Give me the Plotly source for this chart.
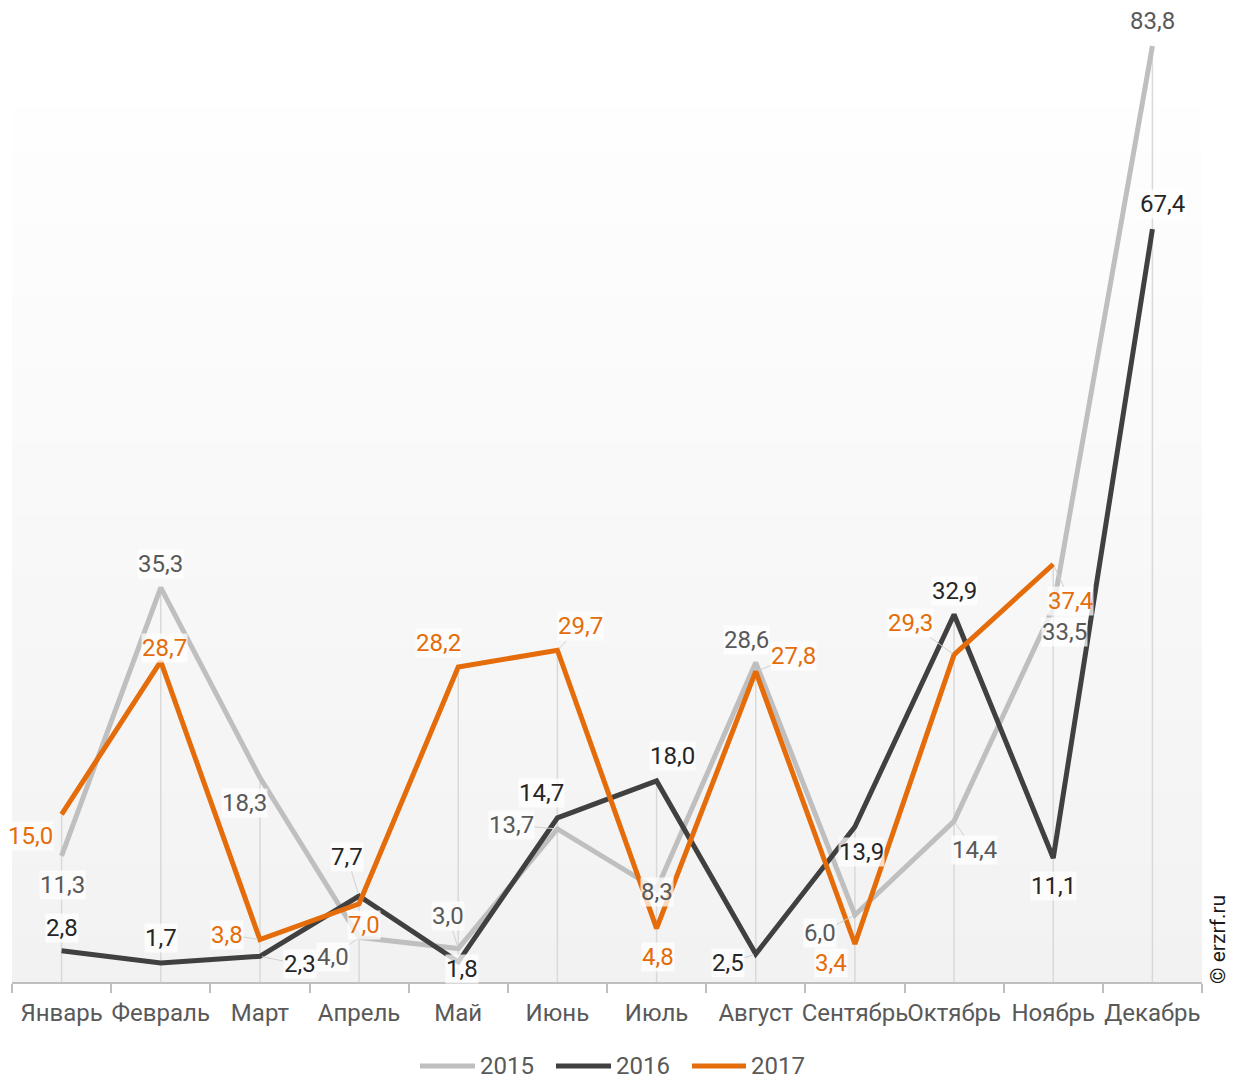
import plotly.graph_objects as go

# data
months = ["Январь", "Февраль", "Март", "Апрель", "Май", "Июнь",
          "Июль", "Август", "Сентябрь", "Октябрь", "Ноябрь", "Декабрь"]
y2015 = [11.3, 35.3, 18.3, 4.0, 3.0, 13.7, 8.3, 28.6, 6.0, 14.4, 33.5, 83.8]
y2016 = [2.8, 1.7, 2.3, 7.7, 1.8, 14.7, 18.0, 2.5, 13.9, 32.9, 11.1, 67.4]
y2017 = [15.0, 28.7, 3.8, 7.0, 28.2, 29.7, 4.8, 27.8, 3.4, 29.3, 37.4]

# label offsets in pixels (dx right, dy down) and whether a leader line is drawn
off2015 = [(1, 29, 0), (0, -24, 0), (-15, 25, 0), (-26, 20, 1), (-10, -32, 1), (-46, -4, 1),
           (0, 3, 0), (-9, -23, 0), (-35, 18, 1), (20, 29, 1), (11, 24, 0), (0, -25, 0)]
off2016 = [(0, -23, 0), (0, -25, 0), (40, 8, 1), (-12, -39, 1), (4, 7, 0), (-16, -25, 0),
           (16, -25, 0), (-28, 9, 1), (7, 25, 0), (0, -24, 0), (0, 28, 0), (10, -25, 0)]
off2017 = [(-31, 22, 0), (4, -13, 0), (-33, -5, 1), (5, 21, 0), (-20, -24, 0), (23, -24, 1),
           (1, 29, 0), (38, -15, 1), (-24, 19, 0), (-44, -32, 1), (17, 37, 1)]

series = [
    ("2015", y2015, "#bfbfbf", "#595959", off2015),
    ("2016", y2016, "#404040", "#262626", off2016),
    ("2017", y2017, "#e46c0a", "#e46c0a", off2017),
]

# the page puts the figure 8px from the top-left corner
PAD = 8
W, H = 1245 - PAD, 1079 - PAD
L, R, T, B = 12 - PAD, 43, 0, 97
plot_w = W - L - R
plot_h = H - T - B

fig = go.Figure()

# drop lines from highest point to the axis
dx, dy = [], []
for i, m in enumerate(months):
    vals = [s[1][i] for s in series if i < len(s[1])]
    dx += [m, m, None]
    dy += [0, max(vals), None]
fig.add_trace(go.Scatter(x=dx, y=dy, mode="lines", line=dict(color="#d9d9d9", width=1.5),
                         hoverinfo="skip", showlegend=False))

for name, vals, color, tcolor, offs in series:
    fig.add_trace(go.Scatter(x=months[:len(vals)], y=vals, mode="lines", name=name,
                             line=dict(color=color, width=5), showlegend=False))
    for i, v in enumerate(vals):
        ox, oy, lead = offs[i]
        txt = f"{v:.1f}".replace(".", ",")
        common = dict(x=months[i], y=v, text=txt, font=dict(size=24, color=tcolor),
                      bgcolor="rgba(255,255,255,0.75)", borderpad=0)
        if lead:
            fig.add_annotation(**common, showarrow=True, ax=ox, ay=oy, arrowhead=0,
                               arrowwidth=1, arrowcolor="#d0d0d0", standoff=2)
        else:
            fig.add_annotation(**common, showarrow=False, xshift=ox, yshift=-oy)


# page pixel -> paper coordinates
def px(x):
    return (x - PAD - L) / plot_w


def py(y):
    return (H - B - (y - PAD)) / plot_h


# gradient background of the plot area
top = py(108)
n = 60
for k in range(n):
    f = k / (n - 1)
    c = round(242 + (254 - 242) * f)
    fig.add_shape(type="rect", xref="paper", yref="paper", x0=0, x1=1,
                  y0=top * k / n, y1=top * (k + 1) / n + 0.001,
                  fillcolor=f"rgb({c},{c},{c})", line=dict(width=0), layer="below")

# custom legend
leg = [("2015", "#bfbfbf", 420, 475), ("2016", "#404040", 556, 611), ("2017", "#e46c0a", 692, 746)]
for name, color, x0, x1 in leg:
    fig.add_shape(type="line", xref="paper", yref="paper", x0=px(x0), x1=px(x1),
                  y0=py(1066), y1=py(1066), line=dict(color=color, width=5))
    fig.add_annotation(xref="paper", yref="paper", x=px(x1 + 3), y=py(1066), text=name,
                       showarrow=False, xanchor="left", yanchor="middle",
                       font=dict(size=24, color="#595959"))

fig.add_annotation(xref="paper", yref="paper", x=px(1218), y=py(940), text="© erzrf.ru",
                   textangle=-90, showarrow=False, xanchor="center", yanchor="middle",
                   font=dict(size=21, color="#1a1a1a"))

fig.update_xaxes(type="category", categoryorder="array", categoryarray=months,
                 range=[-0.5, 11.5], autorange=False,
                 tickson="boundaries", ticks="outside", ticklen=9, tickwidth=2,
                 tickcolor="#bfbfbf", showline=True, linecolor="#bfbfbf", linewidth=2,
                 showgrid=False, tickangle=0, automargin=False, ticklabelstandoff=8,
                 tickfont=dict(size=24, color="#595959"), fixedrange=True)
fig.update_yaxes(range=[0, plot_h / 11.17], visible=False, showgrid=False, fixedrange=True)

fig.update_layout(width=W, height=H, margin=dict(l=L, r=R, t=T, b=B),
                  paper_bgcolor="white", plot_bgcolor="white",
                  font=dict(family="Roboto", color="#595959"), showlegend=False)

fig.write_html("out.html")
